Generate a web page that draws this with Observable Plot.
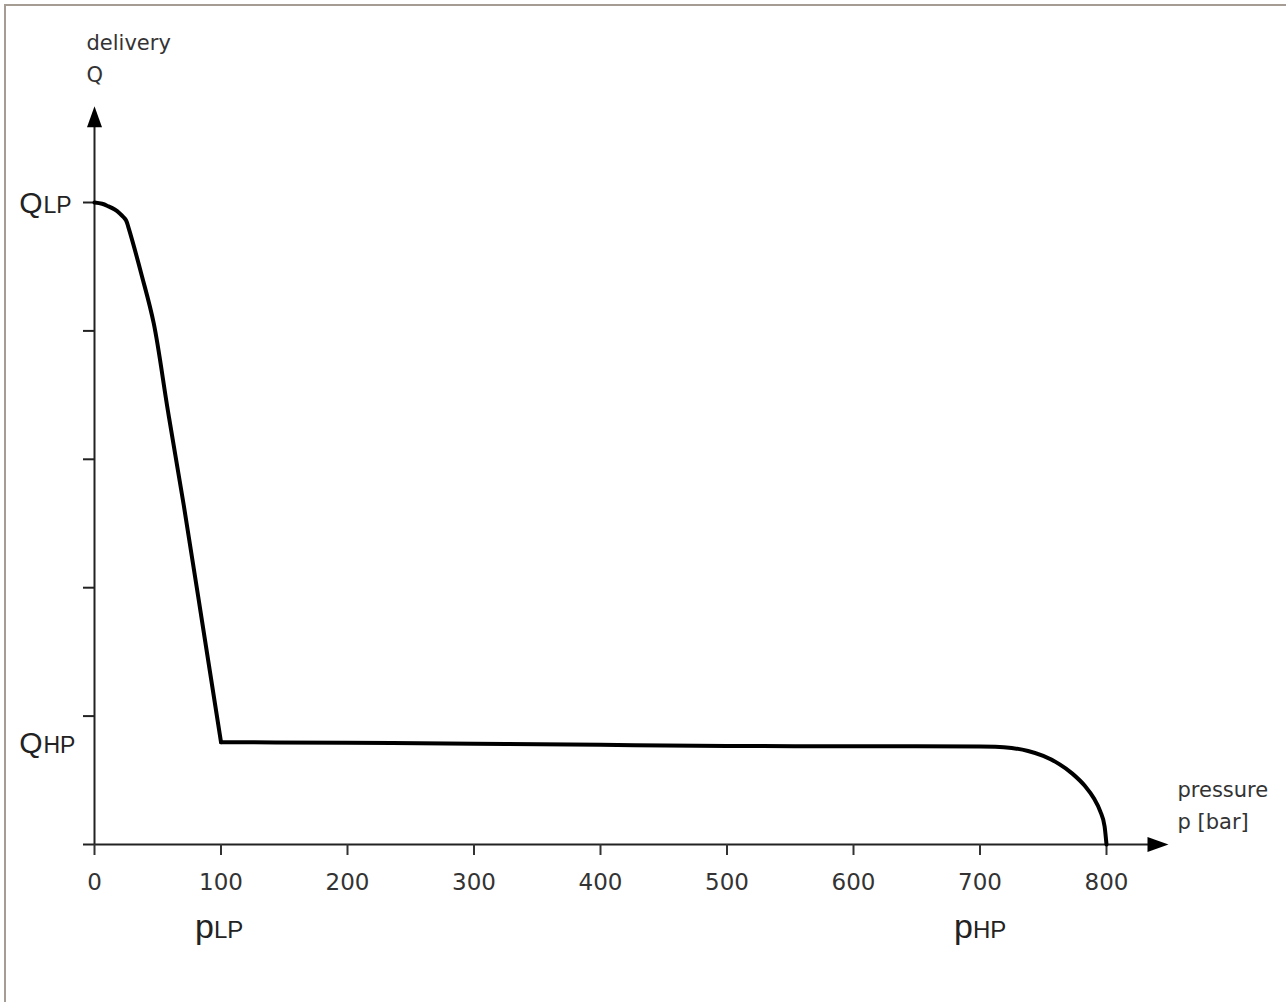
<!DOCTYPE html>
<html>
<head>
<meta charset="utf-8">
<script src="https://cdn.jsdelivr.net/npm/d3@7"></script>
<script src="https://cdn.jsdelivr.net/npm/@observablehq/plot@0.6"></script>
<style>
  html, body { margin: 0; padding: 0; background: #fff; }
  #wrap { position: relative; width: 1286px; height: 1002px; overflow: hidden; }
  #frame { position: absolute; left: 4px; top: 4px; right: -10px; bottom: -10px;
           border-top: 2px solid #a59d93; border-left: 2px solid #a59d93; pointer-events: none; }
</style>
</head>
<body>
<div id="wrap"><div id="frame"></div></div>
<script>
// ---- data ----
// upper branch: pressure p [bar] and delivery Q (relative units, Q_LP = 5)
const upperP = [0, 6, 11, 16, 20, 23, 25, 27, 37.4, 46.8, 58, 70.6, 85, 100];
const upperQ = [5.0, 4.99, 4.97, 4.945, 4.915, 4.885, 4.86, 4.80, 4.43, 4.06, 3.38, 2.64, 1.74, 0.797];
// lower branch: flat high-pressure delivery then drop to zero
const lowerP = [100, 200, 300, 400, 500, 600, 700, 712, 725, 738, 750, 762, 773, 783, 790, 795, 798.5, 800];
const lowerQ = [0.797, 0.792, 0.785, 0.776, 0.767, 0.765, 0.764, 0.762, 0.752, 0.728, 0.690, 0.630, 0.552, 0.455, 0.360, 0.260, 0.140, 0];

const xTicks = [0, 100, 200, 300, 400, 500, 600, 700, 800];
const yTicks = [1, 2, 3, 4, 5];
const qLabelSubs = ["LP", "HP"];
const qLabelLevels = [5, 0.797];
const pLabelSubs = ["LP", "HP"];
const pLabelValues = [100, 700];
const yAxisLines = ["delivery", "Q"];
const xAxisLines = ["pressure", "p [bar]"];
const xAxisExtent = [-8.7, 835, 849];   // start, line end, arrow tip
const yAxisExtent = [0, 5.6, 5.75];     // start, line end, arrow tip

// ---- build tables ----
const upper = upperP.map((p, i) => ({p, q: upperQ[i]}));
const lower = lowerP.map((p, i) => ({p, q: lowerQ[i]}));

const arrowUp = {draw(ctx) { ctx.moveTo(0, 0); ctx.lineTo(7.5, 21); ctx.lineTo(-7.5, 21); ctx.closePath(); }};
const arrowRight = {draw(ctx) { ctx.moveTo(0, 0); ctx.lineTo(-21, -7.5); ctx.lineTo(-21, 7.5); ctx.closePath(); }};

const ink = "#222";
const grey = "#333";

const chart = Plot.plot({
  width: 1286,
  height: 1002,
  marginLeft: 94,
  marginRight: 180,
  marginTop: 202,
  marginBottom: 158,
  style: {fontFamily: "DejaVu Sans", fontSize: "23px", background: "transparent", color: grey},
  x: {domain: [0, 800], axis: null},
  y: {domain: [0, 5], axis: null},
  marks: [
    // axis lines
    Plot.ruleY([0], {x1: xAxisExtent[0], x2: xAxisExtent[1], stroke: ink, strokeWidth: 2}),
    Plot.ruleX([0], {y1: yAxisExtent[0], y2: yAxisExtent[1], stroke: ink, strokeWidth: 2}),
    // arrowheads
    Plot.dot([xAxisExtent[2]], {x: d => d, y: 0, symbol: arrowRight, fill: "black", stroke: "none", r: 5}),
    Plot.dot([yAxisExtent[2]], {x: 0, y: d => d, symbol: arrowUp, fill: "black", stroke: "none", r: 5}),
    // ticks
    Plot.axisX({ticks: xTicks, tickSize: 11, tickPadding: 18, label: null, color: grey, strokeWidth: 2, fontSize: 23, tickFormat: d => String(d)}),
    Plot.axisY({ticks: yTicks, tickSize: 11, label: null, color: ink, strokeWidth: 2, tickFormat: () => ""}),
    // curve
    Plot.line(upper, {x: "p", y: "q", curve: "catmull-rom", stroke: "black", strokeWidth: 4, strokeLinejoin: "round"}),
    Plot.line(lower, {x: "p", y: "q", curve: "monotone-x", stroke: "black", strokeWidth: 4, strokeLinejoin: "round"}),
    // axis titles
    Plot.text([yAxisLines[0]], {x: 0, y: yAxisExtent[2], text: d => d, textAnchor: "start", dx: -8, dy: -63, fontSize: 21, fill: grey}),
    Plot.text([yAxisLines[1]], {x: 0, y: yAxisExtent[2], text: d => d, textAnchor: "start", dx: -8, dy: -31, fontSize: 21, fill: grey}),
    Plot.text([xAxisLines[0]], {x: xAxisExtent[2], y: 0, text: d => d, textAnchor: "start", dx: 9, dy: -54, fontSize: 21, fill: grey}),
    Plot.text([xAxisLines[1]], {x: xAxisExtent[2], y: 0, text: d => d, textAnchor: "start", dx: 9, dy: -22, fontSize: 21, fill: grey}),
    // Q labels
    Plot.text(qLabelLevels, {x: 0, y: d => d, text: () => "Q", textAnchor: "end", dx: -52, dy: 1, fontSize: 30, fontFamily: "Liberation Sans", fill: ink}),
    Plot.text(qLabelLevels, {x: 0, y: d => d, text: (d, i) => qLabelSubs[i], textAnchor: "start", dx: -51, dy: 3.5, fontSize: 23, fontFamily: "Liberation Sans", fill: ink}),
    // p labels
    Plot.text(pLabelValues, {x: d => d, y: 0, text: () => "p", textAnchor: "end", dx: -7, dy: 83, fontSize: 34, fontFamily: "Liberation Sans", fill: ink}),
    Plot.text(pLabelValues, {x: d => d, y: 0, text: (d, i) => pLabelSubs[i], textAnchor: "start", dx: -7, dy: 86, fontSize: 24, fontFamily: "Liberation Sans", fill: ink})
  ]
});
document.getElementById("wrap").prepend(chart);
</script>
</body>
</html>
